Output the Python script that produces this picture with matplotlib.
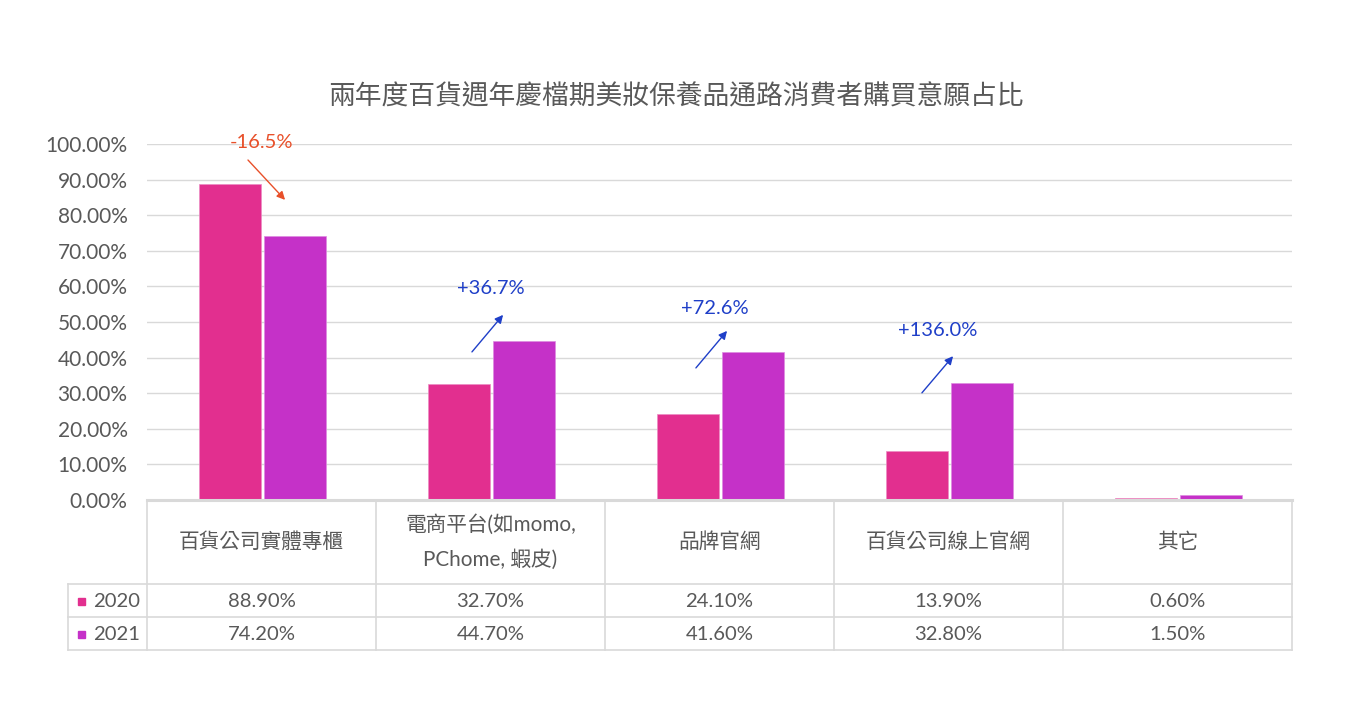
import matplotlib
matplotlib.use("Agg")
import matplotlib.pyplot as plt
from matplotlib.transforms import blended_transform_factory
from matplotlib.lines import Line2D
from matplotlib.patches import Rectangle
import numpy as np

plt.rcParams['font.family'] = ['Lato', 'Noto Sans CJK TC', 'DejaVu Sans']

title = "兩年度百貨週年慶檔期美妝保養品通路消費者購買意願占比"
categories = ["百貨公司實體專櫃", "電商平台(如momo,\nPChome, 蝦皮)", "品牌官網", "百貨公司線上官網", "其它"]
series_names = ["2020", "2021"]
values_2020 = [88.90, 32.70, 24.10, 13.90, 0.60]
values_2021 = [74.20, 44.70, 41.60, 32.80, 1.50]
yticks = [0, 10, 20, 30, 40, 50, 60, 70, 80, 90, 100]

colors = ["#E22F8F", "#C531C8"]
text_color = "#595959"
grid_color = "#D9D9D9"

W, H = 1352, 720
fig = plt.figure(figsize=(W / 100, H / 100), dpi=100)
fig.patch.set_facecolor("white")

def fx(px):
    return px / W

def fy(py):
    return 1 - py / H

ax = fig.add_axes([fx(147), fy(500), fx(1292) - fx(147), fy(144) - fy(500)])
x = np.arange(len(categories))
bw = 0.27
ax.bar(x - 0.1376, values_2020, bw, color=colors[0], edgecolor="#EC8CC4", linewidth=0.5, zorder=3)
ax.bar(x + 0.146, values_2021, bw, color=colors[1], edgecolor="#DE8CE0", linewidth=0.5, zorder=3)
ax.set_xlim(-0.5, len(categories) - 0.5)
ax.set_ylim(0, 100)
ax.set_yticks(yticks)
ax.set_yticklabels([f"{v:.2f}%" for v in yticks], fontsize=15, color=text_color)
ax.tick_params(axis="y", length=0, pad=14)
ax.set_xticks([])
ax.grid(axis="y", color=grid_color, linewidth=1.0, zorder=0)
for s in ax.spines.values():
    s.set_visible(False)
ax.spines["bottom"].set_visible(True)
ax.spines["bottom"].set_color(grid_color)
ax.spines["bottom"].set_linewidth(2.2)
ax.spines["bottom"].set_zorder(4)

fig.text(0.5, fy(97), title, ha="center", va="center", fontsize=19.3, color=text_color)

# annotations with change percent computed from data
changes = [(b - a) / a * 100 for a, b in zip(values_2020, values_2021)]
ann = [
    (0, (0.0, 100.3), (-0.059, 95.5), (0.103, 84.3)),
    (1, (1.002, 59.3), (0.919, 41.6), (1.055, 52.0)),
    (2, (1.98, 53.7), (1.897, 37.1), (2.033, 47.5)),
    (3, (2.954, 47.5), (2.884, 30.1), (3.02, 40.4)),
]
for i, tpos, a0, a1 in ann:
    c = changes[i]
    col = "#E8502A" if c < 0 else "#1F3FC8"
    ax.text(tpos[0], tpos[1], f"{c:+.1f}%", ha="center", va="center", fontsize=14.5,
            color=col, clip_on=False, zorder=5)
    ax.annotate("", xy=a1, xytext=a0,
                arrowprops=dict(arrowstyle="-|>", color=col, lw=1.0, mutation_scale=12,
                                shrinkA=0, shrinkB=0),
                annotation_clip=False, zorder=5)

# data table
trans = blended_transform_factory(ax.transData, fig.transFigure)
col_edges = np.arange(len(categories) + 1) - 0.5
left_px = 68
xl = ax.transData.inverted().transform((left_px, 0))[0]
row_y = [500, 584, 617, 650]

def hline(py, x0, x1):
    fig.add_artist(Line2D([x0, x1], [fy(py), fy(py)], transform=trans, color=grid_color,
                          linewidth=1.2, clip_on=False))

def vline(xd, py0, py1):
    fig.add_artist(Line2D([xd, xd], [fy(py0), fy(py1)], transform=trans, color=grid_color,
                          linewidth=1.2, clip_on=False))

for py in row_y[1:]:
    hline(py, xl, col_edges[-1])
for e in col_edges:
    vline(e, 500, 650)
vline(xl, 584, 650)

for i, cat in enumerate(categories):
    fig.text(x[i], fy(542), cat, transform=trans, ha="center", va="center",
             fontsize=14.9, color=text_color, linespacing=1.9)

for r, (name, vals) in enumerate(zip(series_names, [values_2020, values_2021])):
    yc = (row_y[r + 1] + row_y[r + 2]) / 2 + 1
    for i, v in enumerate(vals):
        fig.text(x[i], fy(yc), f"{v:.2f}%", transform=trans, ha="center", va="center",
                 fontsize=14.6, color=text_color)
    fig.add_artist(Rectangle((fx(77.5), fy(yc) - 3.5 / H), 7 / W, 7 / H,
                             transform=fig.transFigure, color=colors[r]))
    fig.text(fx(93), fy(yc), name, ha="left", va="center", fontsize=14.6, color=text_color)

fig.savefig("out.png", dpi=100, facecolor="white")
